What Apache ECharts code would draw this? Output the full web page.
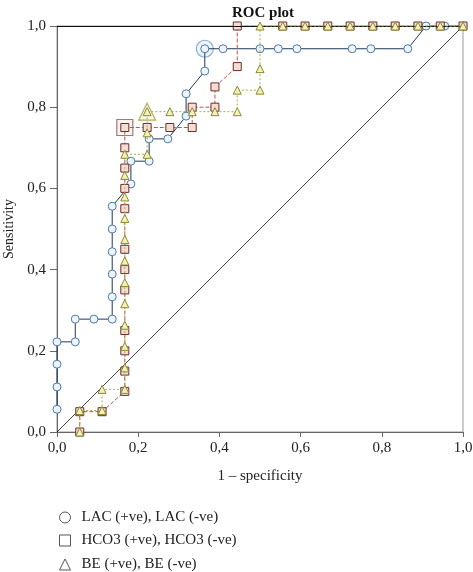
<!DOCTYPE html>
<html>
<head>
<meta charset="utf-8">
<script src="https://cdn.jsdelivr.net/npm/echarts@6/dist/echarts.min.js"></script>
<style>
  html, body { margin: 0; padding: 0; background: #fff; }
  #roc { width: 473px; height: 572px; }
</style>
</head>
<body>
<div id="roc"></div>
<script>
// LAC curve (1 - specificity, sensitivity)
var lacX = [0, 0, 0, 0, 0.045, 0.045, 0.091, 0.136, 0.136, 0.136, 0.136, 0.136, 0.136,
    0.182, 0.182, 0.227, 0.227, 0.273, 0.318, 0.318, 0.364, 0.364, 0.409, 0.5, 0.545,
    0.591, 0.727, 0.773, 0.864, 0.909, 0.955, 1.0];
var lacY = [0.056, 0.111, 0.167, 0.222, 0.222, 0.278, 0.278, 0.278, 0.333, 0.389, 0.444, 0.5, 0.556,
    0.611, 0.667, 0.667, 0.722, 0.722, 0.778, 0.833, 0.889, 0.944, 0.944, 0.944, 0.944,
    0.944, 0.944, 0.944, 0.944, 1.0, 1.0, 1.0];

// HCO3 curve
var hcoX = [0.056, 0.056, 0.111,
    0.167, 0.167, 0.167, 0.167, 0.167, 0.167, 0.167, 0.167, 0.167, 0.167, 0.167, 0.167,
    0.222, 0.278, 0.333, 0.333, 0.389, 0.389, 0.444, 0.444,
    0.556, 0.611, 0.667, 0.722, 0.778, 0.833, 0.889, 0.944, 1.0];
var hcoY = [0, 0.05, 0.05,
    0.1, 0.15, 0.2, 0.25, 0.35, 0.4, 0.45, 0.55, 0.6, 0.65, 0.7, 0.75,
    0.75, 0.75, 0.75, 0.8, 0.8, 0.85, 0.9, 1.0,
    1.0, 1.0, 1.0, 1.0, 1.0, 1.0, 1.0, 1.0, 1.0];

// BE curve
var beX = [0.056, 0.056, 0.111, 0.111,
    0.167, 0.167, 0.167, 0.167, 0.167, 0.167, 0.167, 0.167, 0.167, 0.167, 0.167, 0.167,
    0.222, 0.222, 0.222, 0.278, 0.333, 0.389, 0.444, 0.444, 0.5, 0.5, 0.5,
    0.556, 0.611, 0.667, 0.722, 0.778, 0.833, 0.889, 0.944, 1.0];
var beY = [0, 0.053, 0.053, 0.105,
    0.105, 0.158, 0.211, 0.263, 0.316, 0.368, 0.421, 0.474, 0.526, 0.579, 0.632, 0.684,
    0.684, 0.737, 0.789, 0.789, 0.789, 0.789, 0.789, 0.842, 0.842, 0.895, 1.0,
    1.0, 1.0, 1.0, 1.0, 1.0, 1.0, 1.0, 1.0, 1.0];

// optimal cut-off points (LAC, HCO3, BE)
var optX = [0.364, 0.167, 0.222];
var optY = [0.944, 0.75, 0.789];

// reference diagonal
var diagX = [0, 1];
var diagY = [0, 1];

var seriesNames = ['LAC (+ve), LAC (-ve)', 'HCO3 (+ve), HCO3 (-ve)', 'BE (+ve), BE (-ve)'];
var legendIcons = ['circle', 'rect', 'triangle'];
var axisTicks = [0, 0.2, 0.4, 0.6, 0.8, 1.0];

function pairs(xs, ys) {
    return xs.map((x, i) => [x, ys[i]]);
}

function commaLabel(v) {
    return axisTicks.indexOf(+v.toFixed(1)) >= 0 ? v.toFixed(1).replace('.', ',') : '';
}

var chart = echarts.init(document.getElementById('roc'));

var serif = 'Liberation Serif';

// one legend per row so they stack without wrapping
var legendTops = [505, 528, 552];
var legends = seriesNames.map((name, i) => ({
    orient: 'vertical',
    left: 54,
    top: legendTops[i],
    itemWidth: 11,
    itemHeight: 11,
    textStyle: { fontFamily: serif, fontSize: 15, color: '#222', padding: [0, 0, 0, 6] },
    data: [{ name: name, icon: legendIcons[i], itemStyle: { color: '#fff', borderColor: '#555', borderWidth: 1 } }]
}));

var option = {
    animation: false,
    title: {
        text: 'ROC plot',
        left: 258,
        textAlign: 'center',
        top: 1,
        textStyle: { fontFamily: serif, fontSize: 15, fontWeight: 'bold', color: '#111' }
    },
    grid: {
        left: 57, right: 10, top: 26, bottom: 140,
        containLabel: false,
        outerBoundsMode: 'none',
        show: true, borderColor: '#9a9a9a', borderWidth: 1
    },
    legend: legends,
    xAxis: {
        type: 'value',
        min: 0, max: 1, interval: 0.2,
        name: '1 \u2013 specificity',
        nameLocation: 'middle',
        nameGap: 37,
        nameTextStyle: { fontFamily: serif, fontSize: 15, color: '#222' },
        axisLine: { lineStyle: { color: '#666' } },
        axisTick: { show: true, length: 5, lineStyle: { color: '#666' } },
        axisLabel: { formatter: commaLabel, margin: 9, fontFamily: serif, fontSize: 15, color: '#222' },
        splitLine: { show: false }
    },
    yAxis: {
        type: 'value',
        min: 0, max: 1, interval: 0.2,
        name: 'Sensitivity',
        nameLocation: 'middle',
        nameGap: 40,
        nameTextStyle: { fontFamily: serif, fontSize: 14, color: '#222' },
        axisLine: { lineStyle: { color: '#666' } },
        axisTick: { show: true, length: 7, lineStyle: { color: '#666' } },
        axisLabel: { formatter: commaLabel, margin: 11, fontFamily: serif, fontSize: 15, color: '#222' },
        splitLine: { show: false }
    },
    series: [
        {
            name: 'diagonal',
            type: 'line',
            data: pairs(diagX, diagY),
            symbol: 'none',
            silent: true,
            z: 1,
            lineStyle: { color: '#111', width: 0.8 },
            markLine: {
                silent: true,
                symbol: 'none',
                label: { show: false },
                lineStyle: { color: '#111', width: 1, type: 'solid' },
                data: [{ yAxis: 1 }]
            }
        },
        {
            name: seriesNames[0],
            type: 'line',
            data: pairs(lacX, lacY),
            symbol: 'circle',
            symbolSize: 8,
            z: 3,
            lineStyle: { color: '#1f3a58', width: 1 },
            itemStyle: { color: '#eef4fa', borderColor: '#4a7aa8', borderWidth: 1 }
        },
        {
            name: seriesNames[1],
            type: 'line',
            data: pairs(hcoX, hcoY),
            symbol: 'rect',
            symbolSize: 8,
            z: 4,
            lineStyle: { color: '#c8504a', width: 1, type: [4, 2] },
            itemStyle: { color: '#f6ddd4', borderColor: '#6e2c2c', borderWidth: 1 }
        },
        {
            name: seriesNames[2],
            type: 'line',
            data: pairs(beX, beY),
            symbol: 'triangle',
            symbolSize: 8,
            z: 5,
            lineStyle: { color: '#aaa84a', width: 1, type: [2, 2] },
            itemStyle: { color: '#f3f1b8', borderColor: '#8a8a30', borderWidth: 1 }
        },
        {
            name: 'optimal',
            type: 'scatter',
            silent: true,
            z: 2,
            data: [
                { value: pairs(optX, optY)[0], symbol: 'circle', symbolSize: 17,
                  itemStyle: { color: 'rgba(200,220,240,0.4)', borderColor: '#6f9cc6', borderWidth: 1.2 } },
                { value: pairs(optX, optY)[1], symbol: 'rect', symbolSize: 16,
                  itemStyle: { color: 'rgba(245,225,220,0.5)', borderColor: '#8a5a56', borderWidth: 1.2 } },
                { value: pairs(optX, optY)[2], symbol: 'triangle', symbolSize: 17,
                  itemStyle: { color: 'rgba(240,238,180,0.5)', borderColor: '#9a9a40', borderWidth: 1.2 } }
            ]
        }
    ]
};

option && chart.setOption(option);
</script>
</body>
</html>
